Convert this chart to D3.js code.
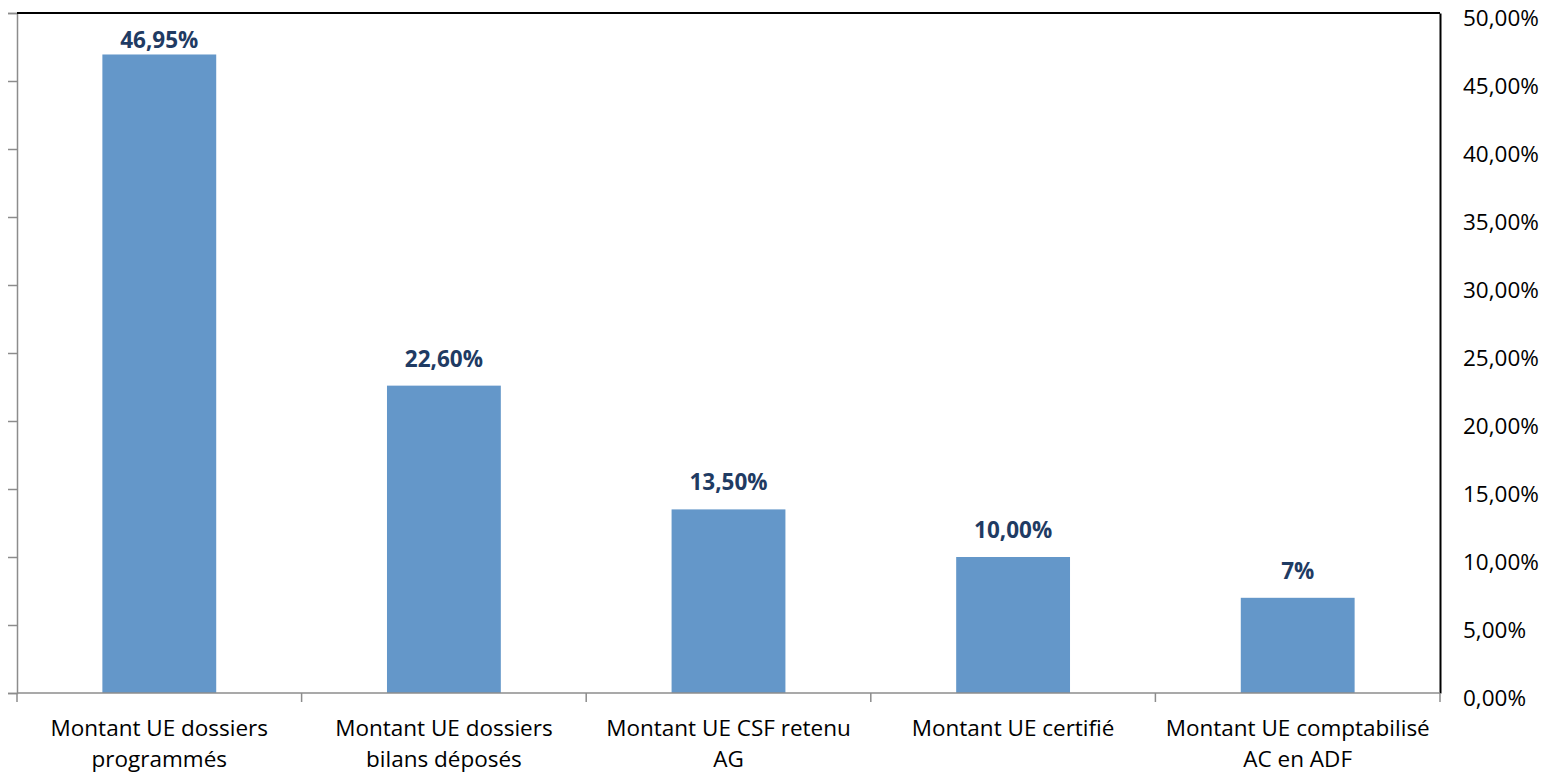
<!DOCTYPE html>
<html lang="fr">
<head>
  <meta charset="UTF-8">
  <title>Montants UE</title>
  <script src="https://d3js.org/d3.v7.min.js"></script>
  <style>
    body { margin: 0; background: #fff; }
    svg text { font-family: "Open Sans", "Noto Sans", sans-serif; }
  </style>
</head>
<body>
  <div id="chart"></div>

  <script>
    // data
    const categories = [
      ["Montant UE dossiers", "programmés"],
      ["Montant UE dossiers", "bilans déposés"],
      ["Montant UE CSF retenu", "AG"],
      ["Montant UE certifié"],
      ["Montant UE comptabilisé", "AC en ADF"]
    ];
    const values = [46.95, 22.60, 13.50, 10.00, 7.00];
    const valueLabels = ["46,95%", "22,60%", "13,50%", "10,00%", "7%"];
    const yTicks = [0, 5, 10, 15, 20, 25, 30, 35, 40, 45, 50];

    const W = 1552, H = 776;
    const plot = { left: 17, right: 1440, top: 13, bottom: 693 };

    const svg = d3.select("#chart").append("svg")
      .attr("width", W)
      .attr("height", H);

    const x = d3.scaleBand()
      .domain(d3.range(categories.length))
      .range([plot.left, plot.right])
      .padding(0);

    const y = d3.scaleLinear()
      .domain([0, 50])
      .range([plot.bottom, plot.top]);

    const barW = x.bandwidth() * 0.4;

    // bars
    svg.selectAll(".bar")
      .data(values)
      .enter().append("rect")
      .attr("class", "bar")
      .attr("x", (d, i) => x(i) + (x.bandwidth() - barW) / 2)
      .attr("y", d => y(d))
      .attr("width", barW)
      .attr("height", d => plot.bottom - y(d))
      .attr("fill", "#6497c9");

    // value labels (kept inside the plot near the top)
    svg.selectAll(".val")
      .data(values)
      .enter().append("text")
      .attr("class", "val")
      .attr("x", (d, i) => x(i) + x.bandwidth() / 2)
      .attr("y", d => Math.max(y(d) - 19, 48))
      .attr("text-anchor", "middle")
      .style("font-size", "22.5px")
      .style("font-weight", "bold")
      .attr("fill", "#1f3b63")
      .text((d, i) => valueLabels[i]);

    // left axis (ticks only, no labels)
    const leftAxis = svg.append("g")
      .attr("transform", `translate(${plot.left},0)`)
      .call(d3.axisLeft(y).tickValues(yTicks).tickSize(9).tickFormat(""));
    leftAxis.selectAll("line, path").attr("stroke", "#8c8c8c").attr("stroke-width", 1.5);

    // right axis labels
    const rightAxis = svg.append("g")
      .attr("transform", `translate(${plot.right},0)`)
      .call(d3.axisRight(y).tickValues(yTicks).tickSize(0).tickPadding(23)
        .tickFormat(d => d3.format(".2f")(d).replace(".", ",") + "%"));
    rightAxis.select(".domain").attr("stroke", "#000").attr("stroke-width", 2);
    rightAxis.selectAll("text")
      .attr("dy", "0.55em")
      .style("font-size", "22.5px")
      .attr("fill", "#000");

    // top border
    svg.append("line")
      .attr("x1", plot.left).attr("x2", plot.right)
      .attr("y1", plot.top).attr("y2", plot.top)
      .attr("stroke", "#000").attr("stroke-width", 2);

    // bottom axis
    const bx = svg.append("g");
    bx.append("line")
      .attr("x1", plot.left).attr("x2", plot.right)
      .attr("y1", plot.bottom).attr("y2", plot.bottom)
      .attr("stroke", "#8c8c8c").attr("stroke-width", 1.5);
    bx.selectAll(".tk")
      .data(d3.range(categories.length + 1))
      .enter().append("line")
      .attr("x1", i => i < categories.length ? x(i) : plot.right)
      .attr("x2", i => i < categories.length ? x(i) : plot.right)
      .attr("y1", plot.bottom).attr("y2", plot.bottom + 9)
      .attr("stroke", "#8c8c8c").attr("stroke-width", 1.5);

    const cat = svg.selectAll(".cat")
      .data(categories)
      .enter().append("text")
      .attr("class", "cat")
      .attr("text-anchor", "middle")
      .attr("y", 736)
      .style("font-size", "22.5px")
      .attr("fill", "#000");
    cat.each(function(lines, i) {
      const t = d3.select(this);
      lines.forEach((l, j) => {
        t.append("tspan")
          .attr("x", x(i) + x.bandwidth() / 2)
          .attr("dy", j === 0 ? 0 : 31)
          .text(l);
      });
    });
  </script>
</body>
</html>
